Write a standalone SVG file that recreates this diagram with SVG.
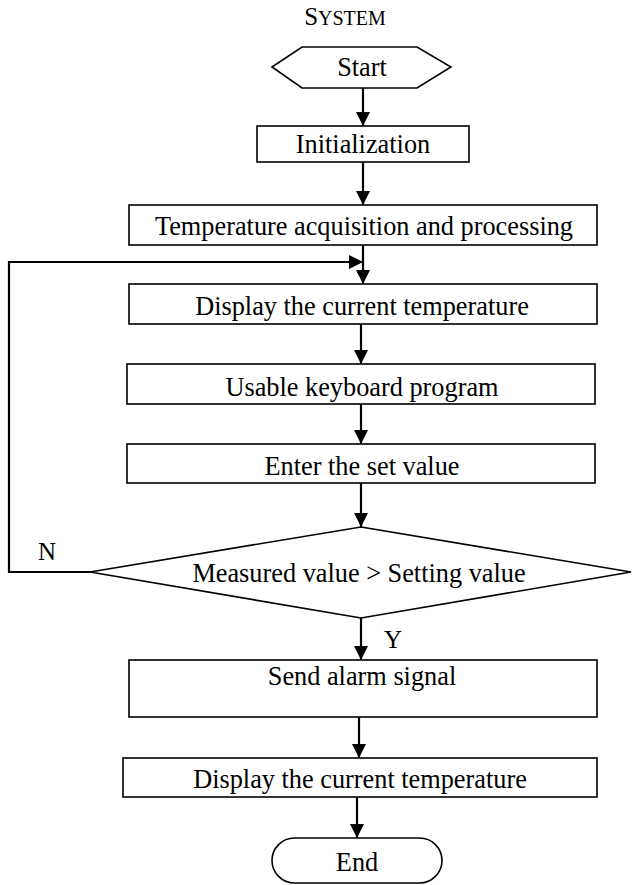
<svg xmlns="http://www.w3.org/2000/svg" width="632" height="885" viewBox="0 0 632 885">
<style>
.box{fill:#fff;stroke:#000;stroke-width:1.6}
.t{font-family:"Liberation Serif","Times New Roman",serif;font-size:26.3px;fill:#000;text-anchor:middle}
.lbl{font-family:"Liberation Serif","Times New Roman",serif;font-size:25px;fill:#000}
.c{fill:none;stroke:#000;stroke-width:2.2}
</style>
<defs>
<marker id="ah" viewBox="0 0 14 14" refX="14" refY="7" markerWidth="14" markerHeight="14" markerUnits="userSpaceOnUse" orient="auto">
<path d="M0,0 L14,7 L0,14 Z" fill="#000"/>
</marker>
</defs>
<text id="title" class="t" x="345" y="25"><tspan font-size="25">S</tspan><tspan font-size="20">YSTEM</tspan></text>
<g id="connectors">
<line class="c" x1="363" y1="88" x2="363" y2="126" marker-end="url(#ah)"/>
<line class="c" x1="363" y1="162" x2="363" y2="205" marker-end="url(#ah)"/>
<line class="c" x1="363" y1="245" x2="363" y2="284" marker-end="url(#ah)"/>
<polyline class="c" points="90,572 9,572 9,262 363,262" marker-end="url(#ah)"/>
<line class="c" x1="361" y1="324" x2="361" y2="364" marker-end="url(#ah)"/>
<line class="c" x1="361" y1="404" x2="361" y2="444" marker-end="url(#ah)"/>
<line class="c" x1="361" y1="483" x2="361" y2="527" marker-end="url(#ah)"/>
<line class="c" x1="361" y1="618" x2="361" y2="660" marker-end="url(#ah)"/>
<line class="c" x1="359" y1="717" x2="359" y2="758" marker-end="url(#ah)"/>
<line class="c" x1="357" y1="797" x2="357" y2="838" marker-end="url(#ah)"/>
<text class="lbl" x="38" y="560">N</text>
<text class="lbl" x="384" y="648">Y</text>
</g>
<g id="start">
<polygon class="box" points="272,67 302,47 417,47 451,67 417,88 302,88"/>
<text class="t" x="362" y="76">Start</text>
</g>
<g id="init">
<rect class="box" x="257" y="126" width="212" height="36"/>
<text class="t" x="363" y="153">Initialization</text>
</g>
<g id="acq">
<rect class="box" x="129" y="205" width="468" height="40"/>
<text class="t" x="364" y="235">Temperature acquisition and processing</text>
</g>
<g id="display1">
<rect class="box" x="129" y="284" width="468" height="40"/>
<text class="t" x="362" y="315">Display the current temperature</text>
</g>
<g id="keyboard">
<rect class="box" x="127" y="364" width="468" height="40"/>
<text class="t" x="362" y="396">Usable keyboard program</text>
</g>
<g id="enter">
<rect class="box" x="127" y="444" width="468" height="39"/>
<text class="t" x="362" y="475">Enter the set value</text>
</g>
<g id="decision">
<polygon class="box" points="361,527 631,572 361,618 90,572"/>
<text class="t" x="359" y="582">Measured value &gt; Setting value</text>
</g>
<g id="alarm">
<rect class="box" x="129" y="660" width="468" height="57"/>
<text class="t" x="362" y="685">Send alarm signal</text>
</g>
<g id="display2">
<rect class="box" x="123" y="758" width="474" height="39"/>
<text class="t" x="360" y="788">Display the current temperature</text>
</g>
<g id="end">
<rect class="box" x="272" y="838" width="170" height="45" rx="22.5"/>
<text class="t" x="357" y="871">End</text>
</g>
</svg>
